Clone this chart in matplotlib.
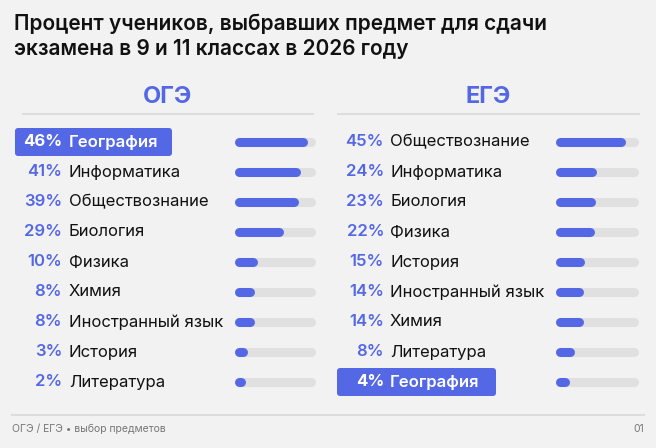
import matplotlib
matplotlib.use("Agg")
import matplotlib.pyplot as plt
from matplotlib.patches import FancyBboxPatch

plt.rcParams['font.family'] = ['Inter', 'DejaVu Sans']

title = "Процент учеников, выбравших предмет для сдачи\nэкзамена в 9 и 11 классах в 2026 году"
oge_subjects = ["География", "Информатика", "Обществознание", "Биология", "Физика",
                "Химия", "Иностранный язык", "История", "Литература"]
oge_values = [46, 41, 39, 29, 10, 8, 8, 3, 2]
ege_subjects = ["Обществознание", "Информатика", "Биология", "Физика", "История",
                "Иностранный язык", "Химия", "Литература", "География"]
ege_values = [45, 24, 23, 22, 15, 14, 14, 8, 4]
highlight = "География"
footer_left = "ОГЭ / ЕГЭ • выбор предметов"
footer_right = "01"

BLUE = "#5468e6"
BG = "#f2f2f2"
TRACK = "#e0e0e0"

fig = plt.figure(figsize=(6.56, 4.48), dpi=100, facecolor=BG)
ax = fig.add_axes([0, 0, 1, 1])
ax.set_xlim(0, 656)
ax.set_ylim(448, 0)
ax.axis("off")

ax.text(14, 36, title, fontsize=15, fontweight="semibold", color="#111", va="center",
        linespacing=1.3)

def panel(x0, x1, header, subjects, values, pct_x, name_x, bar_x0, bar_x1, scale, box):
    ax.text((x0 + x1) / 2, 97, header, fontsize=17, fontweight="bold", color=BLUE,
            ha="center", va="center")
    ax.plot([x0, x1], [114, 114], color="#dddddd", lw=1.5, solid_capstyle="butt")
    for i, (s, v) in enumerate(zip(subjects, values)):
        y = 142 + i * 30
        hl = s == highlight
        if hl:
            b = FancyBboxPatch((box[0], y - 14), box[1] - box[0], 28,
                               boxstyle="round,pad=0,rounding_size=3",
                               fc=BLUE, ec="none")
            ax.add_patch(b)
        ax.text(pct_x, y, f"{v}%", fontsize=12, fontweight="bold" if hl else "semibold",
                color="white" if hl else BLUE, ha="right", va="center")
        ax.text(name_x, y, s, fontsize=12, fontweight="semibold" if hl else "normal",
                color="white" if hl else "#111", ha="left", va="center")
        r = 3.5
        ax.plot([bar_x0 + r, bar_x1 - r], [y, y], color=TRACK, lw=6.5,
                solid_capstyle="round")
        end = bar_x0 + r + (bar_x1 - bar_x0 - 2 * r) * v / scale
        ax.plot([bar_x0 + r, end], [y, y], color=BLUE, lw=6.5, solid_capstyle="round")

panel(22, 314, "ОГЭ", oge_subjects, oge_values, 62, 69, 235, 314, 51, (15, 172))
panel(337, 640, "ЕГЭ", ege_subjects, ege_values, 384, 390, 556, 637, 54, (337, 496))

ax.plot([12, 644], [415, 415], color="#dddddd", lw=1.5)
ax.text(12, 429, footer_left, fontsize=7.5, color="#777", va="center")
ax.text(644, 429, footer_right, fontsize=7.5, color="#777", va="center", ha="right")

fig.savefig("out.png", dpi=100, facecolor=BG)
